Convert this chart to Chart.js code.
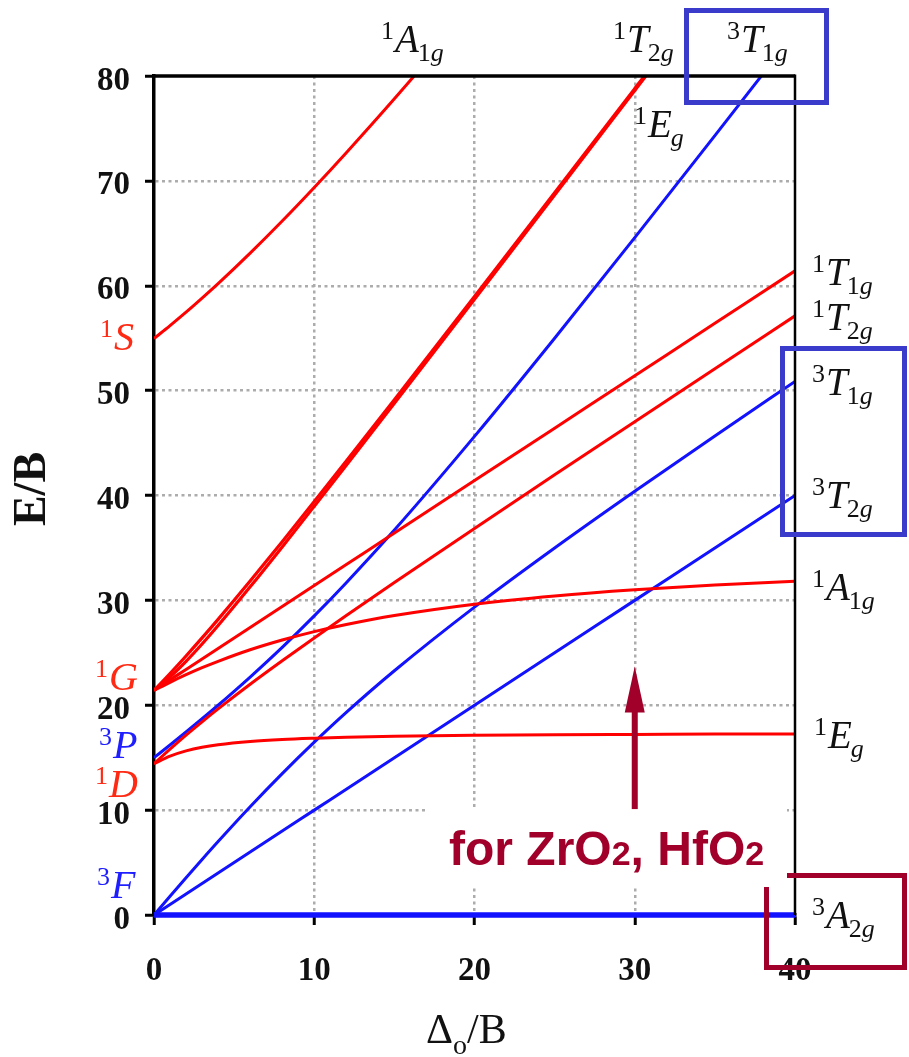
<!DOCTYPE html>
<html>
<head>
<meta charset="utf-8">
<script src="https://cdn.jsdelivr.net/npm/chart.js@4.4.1/dist/chart.umd.min.js"></script>
<style>
  html, body { margin: 0; padding: 0; background: #ffffff; }
  canvas { display: block; }
</style>
</head>
<body>
<canvas id="ts" width="909" height="1057"></canvas>
<script>
// Tanabe–Sugano diagram for a d8 ion (octahedral), energies E/B versus Δo/B
const delta = [0, 1, 2, 3, 4, 6, 8, 10, 12, 15, 20, 25, 30, 35, 40];

// triplet terms
const A2g3 = [0, 0, 0, 0, 0, 0, 0, 0, 0, 0, 0, 0, 0, 0, 0];
const T2g3 = [0, 1, 2, 3, 4, 6, 8, 10, 12, 15, 20, 25, 30, 35, 40];
const T1g3F = [0, 1.79, 3.55, 5.29, 7.00, 10.32, 13.48, 16.48, 19.32, 23.29, 29.36, 35.00, 40.41, 45.68, 50.88];
const T1g3P = [15, 16.21, 17.45, 18.71, 20.00, 22.69, 25.52, 28.52, 31.69, 36.71, 45.64, 55.00, 64.59, 74.32, 84.12];

// singlet terms
const Eg1Low = [14.42, 15.15, 15.65, 16.00, 16.24, 16.55, 16.74, 16.86, 16.95, 17.04, 17.13, 17.19, 17.22, 17.25, 17.27];
const Eg1High = [21.42, 22.70, 24.19, 25.84, 27.60, 31.29, 35.10, 38.98, 42.89, 48.80, 58.71, 68.65, 78.62, 88.59, 98.57];
const T2g1Low = [14.42, 15.81, 17.15, 18.42, 19.65, 22.00, 24.24, 26.42, 28.55, 31.70, 36.86, 41.97, 47.04, 52.09, 57.13];
const T2g1High = [21.42, 23.03, 24.70, 26.42, 28.19, 31.84, 35.60, 39.42, 43.29, 49.14, 58.98, 68.87, 78.80, 88.75, 98.71];
const T1g1 = [21.42, 22.42, 23.42, 24.42, 25.42, 27.42, 29.42, 31.42, 33.42, 36.42, 41.42, 46.42, 51.42, 56.42, 61.42];
const A1g1Low = [21.42, 22.19, 22.91, 23.58, 24.19, 25.29, 26.22, 27.02, 27.70, 28.56, 29.64, 30.42, 31.01, 31.47, 31.83];
const A1g1High = [54.97, 56.20, 57.48, 58.82, 60.20, 63.11, 66.17, 69.37, 72.69, 77.83, 86.75, 95.97, 105.38, 114.92, 124.56];

const xTicks = [0, 10, 20, 30, 40];
const yTicks = [0, 10, 20, 30, 40, 50, 60, 70, 80];

const RED = '#ff0000';
const BLUE = '#1212ff';
const LABEL_RED = '#ff2a14';
const LABEL_BLUE = '#1e1eff';
const DARK_RED = '#a0002a';
const BOX_BLUE = '#3a3acb';

const series = [
  { label: '1S 1A1g', values: A1g1High, color: RED, width: 3 },
  { label: '1G 1T2g', values: T2g1High, color: RED, width: 3.2 },
  { label: '1G 1Eg', values: Eg1High, color: RED, width: 3.2 },
  { label: '1G 1T1g', values: T1g1, color: RED, width: 3 },
  { label: '1G 1A1g', values: A1g1Low, color: RED, width: 3 },
  { label: '1D 1T2g', values: T2g1Low, color: RED, width: 3 },
  { label: '1D 1Eg', values: Eg1Low, color: RED, width: 3 },
  { label: '3P 3T1g', values: T1g3P, color: BLUE, width: 3 },
  { label: '3F 3T1g', values: T1g3F, color: BLUE, width: 3 },
  { label: '3F 3T2g', values: T2g3, color: BLUE, width: 3 },
  { label: '3F 3A2g', values: A2g3, color: BLUE, width: 5.5 }
];

const datasets = series.map(s => ({
  label: s.label,
  data: delta.map((d, i) => ({ x: d, y: s.values[i] })),
  borderColor: s.color,
  borderWidth: s.width,
  pointRadius: 0,
  fill: false,
  cubicInterpolationMode: 'monotone',
  clip: { left: 0, right: 0, top: 0, bottom: 4 }
}));

const SERIF = '"Liberation Serif", "Times New Roman", serif';
const SANS = '"Liberation Sans", Arial, sans-serif';

// term symbol with left superscript multiplicity and subscript
function term(ctx, x, y, sup, main, subDigit, color, size) {
  const big = size || 39;
  const small = Math.round(big * 0.66);
  ctx.save();
  ctx.fillStyle = color;
  ctx.textAlign = 'left';
  ctx.textBaseline = 'alphabetic';
  ctx.font = small + 'px ' + SERIF;
  ctx.fillText(sup, x, y - 13);
  let cx = x + ctx.measureText(sup).width + 1;
  ctx.font = 'italic ' + big + 'px ' + SERIF;
  ctx.fillText(main, cx, y);
  cx += ctx.measureText(main).width - 1;
  if (subDigit) {
    ctx.font = small + 'px ' + SERIF;
    ctx.fillText(subDigit, cx, y + 9);
    cx += ctx.measureText(subDigit).width;
  }
  if (subDigit !== null) {
    ctx.font = 'italic ' + small + 'px ' + SERIF;
    ctx.fillText('g', cx, y + 9);
  }
  ctx.restore();
}

const decor = {
  id: 'decor',
  beforeDatasetsDraw(chart) {
    // white backing panel for the note
    const ctx = chart.ctx;
    ctx.save();
    ctx.fillStyle = '#ffffff';
    ctx.fillRect(425, 809, 362, 78);
    ctx.restore();
  },
  afterDatasetsDraw(chart) {
    const ctx = chart.ctx;
    const a = chart.chartArea;
    const xs = chart.scales.x, ys = chart.scales.y;

    // frame: top and right edges
    ctx.save();
    ctx.strokeStyle = '#000';
    ctx.lineWidth = 3.5;
    ctx.beginPath();
    ctx.moveTo(a.left - 1.5, a.top);
    ctx.lineTo(a.right, a.top);
    ctx.stroke();
    ctx.lineWidth = 2.5;
    ctx.beginPath();
    ctx.moveTo(a.right, a.top - 1.5);
    ctx.lineTo(a.right, a.bottom);
    ctx.stroke();
    ctx.restore();

    // arrow marking the oxide position
    const ax = xs.getPixelForValue(30);
    const yTip = ys.getPixelForValue(23.7);
    const yHead = ys.getPixelForValue(19.3);
    const yTail = ys.getPixelForValue(10.1);
    ctx.save();
    ctx.fillStyle = DARK_RED;
    ctx.fillRect(ax - 3, yHead - 1, 6, yTail - yHead + 1);
    ctx.beginPath();
    ctx.moveTo(ax, yTip);
    ctx.lineTo(ax + 10, yHead);
    ctx.lineTo(ax - 10, yHead);
    ctx.closePath();
    ctx.fill();

    // note text
    ctx.textAlign = 'left';
    ctx.textBaseline = 'alphabetic';
    let tx = 449;
    const ty = 865;
    const parts = [['for ZrO', 48], ['2', 34], [', HfO', 48], ['2', 34]];
    parts.forEach(([t, s]) => {
      ctx.font = 'bold ' + s + 'px ' + SANS;
      ctx.fillText(t, tx, ty);
      tx += ctx.measureText(t).width;
    });
    ctx.restore();

    // term labels along the top
    term(ctx, 381, 52, '1', 'A', '1', '#111');
    term(ctx, 613, 52, '1', 'T', '2', '#111');
    term(ctx, 727, 52, '3', 'T', '1', '#111');
    term(ctx, 634, 137, '1', 'E', '', '#111');

    // term labels on the right
    term(ctx, 812, 285, '1', 'T', '1', '#111');
    term(ctx, 812, 330, '1', 'T', '2', '#111');
    term(ctx, 812, 395, '3', 'T', '1', '#111');
    term(ctx, 812, 508, '3', 'T', '2', '#111');
    term(ctx, 812, 600, '1', 'A', '1', '#111');
    term(ctx, 814, 748, '1', 'E', '', '#111');
    term(ctx, 812, 928, '3', 'A', '2', '#111');

    // free-ion terms on the left
    term(ctx, 100, 350, '1', 'S', null, LABEL_RED, 40);
    term(ctx, 95, 690, '1', 'G', null, LABEL_RED, 40);
    term(ctx, 99, 758, '3', 'P', null, LABEL_BLUE, 40);
    term(ctx, 95, 797, '1', 'D', null, LABEL_RED, 40);
    term(ctx, 97, 898, '3', 'F', null, LABEL_BLUE, 40);

    // highlight boxes
    ctx.save();
    ctx.lineWidth = 5;
    ctx.strokeStyle = BOX_BLUE;
    ctx.strokeRect(686.5, 10.5, 140, 92);
    ctx.strokeRect(782.5, 348.5, 122, 186);
    ctx.strokeStyle = DARK_RED;
    ctx.beginPath();
    ctx.moveTo(787, 875.5);
    ctx.lineTo(904.5, 875.5);
    ctx.lineTo(904.5, 967.5);
    ctx.lineTo(766.5, 967.5);
    ctx.lineTo(766.5, 887);
    ctx.stroke();
    ctx.restore();

    // axis titles
    ctx.save();
    ctx.fillStyle = '#111';
    ctx.translate(33, 489);
    ctx.rotate(-Math.PI / 2);
    ctx.textAlign = 'center';
    ctx.textBaseline = 'middle';
    ctx.font = 'bold 46px ' + SERIF;
    ctx.fillText('E/B', 0, 0);
    ctx.restore();

    ctx.save();
    ctx.fillStyle = '#111';
    ctx.textAlign = 'left';
    ctx.textBaseline = 'alphabetic';
    let bx = 426;
    ctx.font = '42px ' + SERIF;
    ctx.fillText('\u0394', bx, 1043);
    bx += ctx.measureText('\u0394').width;
    ctx.font = '28px ' + SERIF;
    ctx.fillText('o', bx, 1054);
    bx += ctx.measureText('o').width;
    ctx.font = '42px ' + SERIF;
    ctx.fillText('/B', bx, 1043);
    ctx.restore();
  }
};

const gridColor = (edgeValues) => (c) =>
  (c.tick && edgeValues.includes(c.tick.value)) ? 'rgba(0,0,0,0)' : '#acacac';

new Chart(document.getElementById('ts'), {
  type: 'line',
  data: { datasets },
  options: {
    responsive: false,
    animation: false,
    devicePixelRatio: 1,
    layout: { padding: { top: 76, right: 114, left: 0, bottom: 0 } },
    plugins: { legend: { display: false }, tooltip: { enabled: false }, title: { display: false } },
    scales: {
      x: {
        type: 'linear',
        min: xTicks[0],
        max: xTicks[xTicks.length - 1],
        afterFit: s => { s.height = 142; },
        afterBuildTicks: s => { s.ticks = xTicks.map(v => ({ value: v })); },
        ticks: {
          color: '#111',
          padding: 27,
          font: { family: SERIF, size: 33, weight: 'bold' },
          maxRotation: 0
        },
        grid: {
          color: gridColor([0, 40]),
          lineWidth: 2.5,
          tickLength: 10,
          tickColor: '#000',
          tickWidth: 3
        },
        border: { color: '#000', width: 3.5, dash: [3, 3.5] }
      },
      y: {
        type: 'linear',
        min: yTicks[0],
        max: yTicks[yTicks.length - 1],
        afterFit: s => { s.width = 154; },
        afterBuildTicks: s => { s.ticks = yTicks.map(v => ({ value: v })); },
        ticks: {
          color: '#111',
          padding: 15,
          labelOffset: 5,
          font: { family: SERIF, size: 33, weight: 'bold' }
        },
        grid: {
          color: gridColor([0, 80]),
          lineWidth: 2.5,
          tickLength: 9,
          tickColor: '#000',
          tickWidth: 3
        },
        border: { color: '#000', width: 3.5, dash: [3, 3.5] }
      }
    }
  },
  plugins: [decor]
});
</script>
</body>
</html>
